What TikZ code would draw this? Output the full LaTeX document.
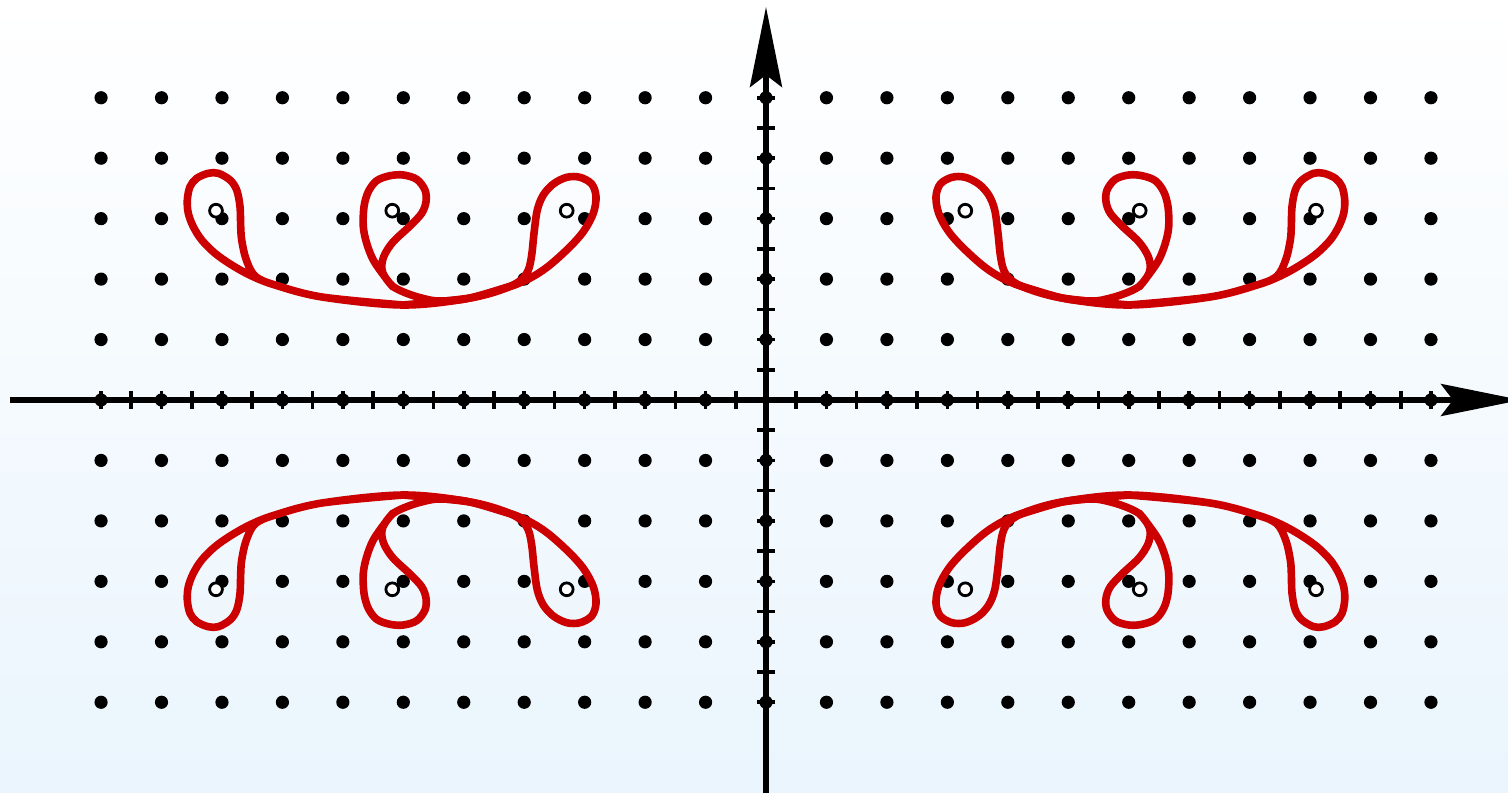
\documentclass[tikz,border=0pt]{standalone}
\usetikzlibrary{arrows.meta}
\definecolor{curvered}{RGB}{204,0,0}
\definecolor{bgbottom}{RGB}{234,245,253}
\tikzset{
  axisline/.style={line width=2.6pt, -{Stealth[length=40pt,width=16pt,inset=6pt]}},
  tickmark/.style={line width=1.8pt},
  latticedot/.style={fill=black},
  curve/.style={draw=curvered, line width=3.8pt, line join=round, line cap=round},
  pole/.style={draw=black, fill=white, line width=1.4pt},
}
\newcommand{\drawmotif}{%
  \draw[curve] plot[smooth, tension=0.55] coordinates {
    (403,305) (322,297) (275,285) (255,276) (246,259) (241.7,240) (240.7,226.7) (240,206.7)
    (236.7,190) (230,180) (218.3,173.3) (208.3,173.3) (196.7,178.3) (190,186.7)
    (187.3,200) (188.3,213.3) (193.3,226.7) (201.7,240) (215,253.3) (231.7,265)
    (251.7,276) (275,285) (322,297) (403,305) (470,298) (517,284) (543.3,270) (566.7,250)
    (583.3,231.7) (593.3,213.3) (596,196.7) (591.7,184) (580,177.3) (566.7,177.3)
    (553.3,184) (543.3,195) (537.3,210) (534,233.3) (531.7,255) (528.3,270)
    (521,280) (505,288.5) (470,298) (403,305)};
  \draw[curve] plot[smooth, tension=0.55] coordinates {
    (517,284) (470,298) (440,301) (423.3,298.5) (406.7,293.3) (393.3,286.7) (385,277)
    (373.3,260) (366.7,243.3) (363.3,226.7) (364,206.7) (368.3,191.7) (376.7,180.7)
    (390,175.7) (403.3,175) (416.7,179.3) (425,190) (426,201.7) (421.7,213.3)
    (410,226) (393,242) (384,256) (381.7,268) (385,277) (393,287)};
  \draw[pole] (216,210.7) circle[radius=3.2pt];
  \draw[pole] (392.3,210.7) circle[radius=3.2pt];
  \draw[pole] (566.7,210.7) circle[radius=3.2pt];
}
\begin{document}
\begin{tikzpicture}[x=0.5pt,y=-0.5pt]
  \useasboundingbox (0,0) rectangle (1508,792);
  \clip (0,0) rectangle (1508,792);
  \shade[top color=white, bottom color=bgbottom] (0,0) rectangle (1508,792);
  % ticks
  \foreach \k in {1,...,22}{
    \draw[tickmark] (766+30.225*\k,391) -- (766+30.225*\k,409);
    \draw[tickmark] (766-30.225*\k,391) -- (766-30.225*\k,409);
  }
  \foreach \k in {1,...,10}{
    \draw[tickmark] (757,400+30.225*\k) -- (775,400+30.225*\k);
    \draw[tickmark] (757,400-30.225*\k) -- (775,400-30.225*\k);
  }
  % axes
  \coordinate (xstart) at (10,400);
  \coordinate (xend) at (1521,400);
  \coordinate (ystart) at (766,800);
  \coordinate (yend) at (766,7);
  \draw[axisline] (xstart) -- (xend);
  \draw[axisline] (ystart) -- (yend);
  % lattice dots
  \foreach \i in {-11,...,11}{
    \foreach \j in {1,...,5}{
      \fill[latticedot] (766+60.45*\i,400+60.45*\j) circle[radius=3.3pt];
      \fill[latticedot] (766+60.45*\i,400-60.45*\j) circle[radius=3.3pt];
    }
  }
  \foreach \i in {1,...,11}{
    \fill[latticedot] (766+60.45*\i,400) circle[radius=3.3pt];
    \fill[latticedot] (766-60.45*\i,400) circle[radius=3.3pt];
  }
  % curves
  \drawmotif
  \begin{scope}[shift={(1532,0)}, xscale=-1]
    \drawmotif
  \end{scope}
  \begin{scope}[shift={(0,800)}, yscale=-1]
    \drawmotif
  \end{scope}
  \begin{scope}[shift={(1532,800)}, xscale=-1, yscale=-1]
    \drawmotif
  \end{scope}
\end{tikzpicture}
\end{document}
